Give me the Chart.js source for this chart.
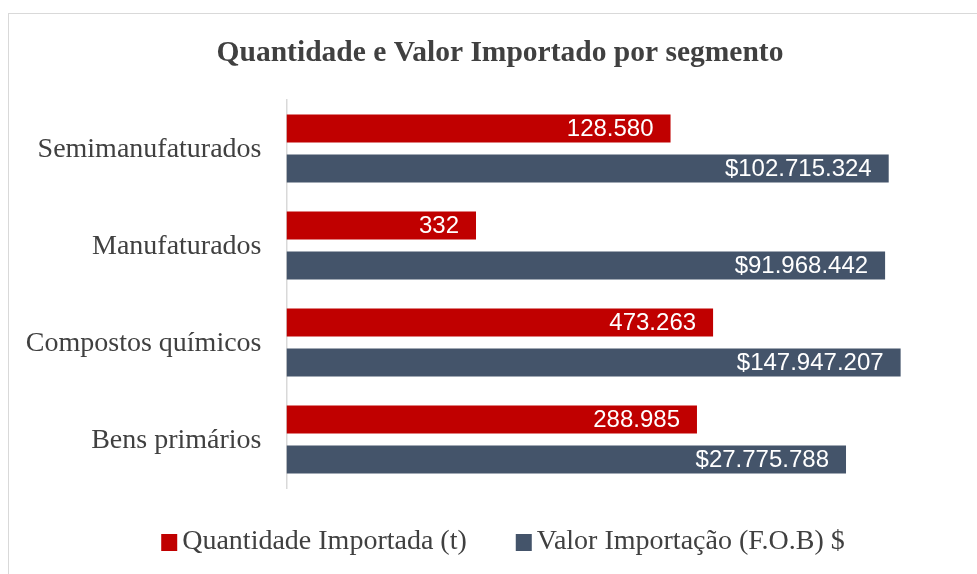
<!DOCTYPE html>
<html>
<head>
<meta charset="utf-8">
<script src="https://cdn.jsdelivr.net/npm/chart.js@4.4.1/dist/chart.umd.min.js"></script>
<style>
  html, body { margin: 0; padding: 0; background: #ffffff; overflow: hidden; width: 977px; height: 574px; }
  #frame { position: absolute; left: 8px; top: 13px; width: 982px; height: 575px; border: 1px solid #d9d9d9; background: #fff; }
  #wrap { position: absolute; left: 0; top: 0; width: 982px; height: 575px; }
</style>
</head>
<body>
<div id="frame"><div id="wrap"><canvas id="c" width="982" height="575"></canvas></div></div>
<script>
// ---- Data ----
const categories = ['Semimanufaturados', 'Manufaturados', 'Compostos químicos', 'Bens primários'];
const quantidadeImportada = [128580, 332, 473263, 288985];
const valorImportacao = [102715324, 91968442, 147947207, 27775788];
const seriesNames = ['Quantidade Importada (t)', 'Valor Importação (F.O.B) $'];
const seriesPrefixes = ['', '$'];
const chartTitle = 'Quantidade e Valor Importado por segmento';

const COLORS = ['#C00000', '#44546A'];
const TEXT = '#404040';
const SERIF = '"Liberation Serif", "Times New Roman", "DejaVu Serif", serif';
const SANS = '"Liberation Sans", Arial, "DejaVu Sans", sans-serif';

function fmt(v, prefix) {
  const s = Math.round(v).toString().replace(/\B(?=(\d{3})+(?!\d))/g, '.');
  return prefix + s;
}

const dataLabelPlugin = {
  id: 'dataLabels',
  afterDatasetsDraw(chart) {
    const ctx = chart.ctx;
    ctx.save();
    ctx.font = '24px ' + SANS;
    ctx.fillStyle = '#ffffff';
    ctx.textAlign = 'right';
    ctx.textBaseline = 'middle';
    chart.data.datasets.forEach((ds, di) => {
      const meta = chart.getDatasetMeta(di);
      meta.data.forEach((bar, i) => {
        ctx.fillText(fmt(ds.data[i], seriesPrefixes[di]), bar.x - 17, bar.y + 1);
      });
    });
    ctx.restore();
  }
};

const legendPlugin = {
  id: 'customLegend',
  afterDraw(chart) {
    const ctx = chart.ctx;
    ctx.save();
    ctx.font = '28px ' + SERIF;
    ctx.textBaseline = 'middle';
    ctx.textAlign = 'left';
    const box = 16, gapText = 5, gapItem = 49;
    const items = chart.data.datasets.map(ds => ({ label: ds.label, color: ds.backgroundColor, w: ctx.measureText(ds.label).width }));
    let total = 0;
    items.forEach((it, i) => { total += box + gapText + it.w + (i < items.length - 1 ? gapItem : 0); });
    let x = chart.width / 2 - total / 2 + 3;
    const cy = 528;
    items.forEach(it => {
      ctx.fillStyle = it.color;
      ctx.fillRect(x, cy - box / 2, box, box + 1);
      x += box + gapText;
      ctx.fillStyle = TEXT;
      ctx.fillText(it.label, x, cy);
      x += it.w + gapItem;
    });
    ctx.restore();
  }
};

new Chart(document.getElementById('c'), {
  type: 'bar',
  data: {
    labels: categories,
    datasets: [
      { label: seriesNames[0], data: quantidadeImportada, backgroundColor: COLORS[0], categoryPercentage: 0.825, barPercentage: 0.7 },
      { label: seriesNames[1], data: valorImportacao, backgroundColor: COLORS[1], categoryPercentage: 0.825, barPercentage: 0.7 }
    ]
  },
  options: {
    indexAxis: 'y',
    responsive: false,
    animation: false,
    devicePixelRatio: 1,
    layout: { padding: { left: 0, right: 0, top: 0, bottom: 101 } },
    plugins: {
      legend: { display: false },
      tooltip: { enabled: false },
      title: {
        display: true,
        text: chartTitle,
        color: TEXT,
        font: { family: SERIF, size: 29.5, weight: 'bold' },
        padding: { top: 21.3, bottom: 29.3 }
      }
    },
    scales: {
      x: {
        type: 'logarithmic',
        min: 1,
        max: 1e9,
        display: false
      },
      y: {
        grid: { display: false, drawTicks: false },
        border: { display: true, color: '#d9d9d9', width: 1.5 },
        ticks: { color: TEXT, font: { family: SERIF, size: 28 }, padding: 25, labelOffset: 1 },
        afterFit(scale) { scale.width = 277.5; }
      },
      yRight: {
        type: 'category',
        position: 'right',
        grid: { display: false, drawTicks: false },
        border: { display: false },
        ticks: { display: false },
        afterFit(scale) { scale.width = 28; }
      }
    }
  },
  plugins: [dataLabelPlugin, legendPlugin]
});
</script>
</body>
</html>
